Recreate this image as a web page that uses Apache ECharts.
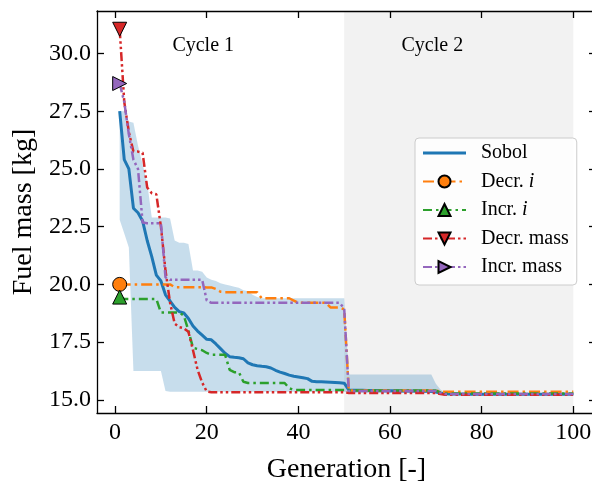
<!DOCTYPE html>
<html>
<head>
<meta charset="utf-8">
<script src="https://cdn.jsdelivr.net/npm/echarts@6/dist/echarts.min.js"></script>
<style>html,body{margin:0;padding:0;background:#fff}#c{width:592px;height:481px}</style>
</head>
<body>
<div id="c"></div>
<script>
const generations = Array.from({length: 100}, (_, i) => i + 1);
const xTicks = [0, 20, 40, 60, 80, 100];
const yTicks = [15, 17.5, 20, 22.5, 25, 27.5, 30];
const seriesNames = ['Sobol', 'Decr. i', 'Incr. i', 'Decr. mass', 'Incr. mass'];
const cycleLabels = ['Cycle 1', 'Cycle 2'];
const cycleLabelX = [12.5, 62.5];
const cycleLabelY = 30.32;
const cycle2Span = [50, 100];

const sobol = [
 27.5, 25.4, 25.0, 23.3, 23.1, 22.75, 21.9, 21.2, 20.4, 20.15,
 19.55, 19.28, 19.0, 18.82, 18.76, 18.52, 18.2, 17.98, 17.8, 17.62,
 17.6, 17.42, 17.22, 17.02, 16.87, 16.84, 16.82, 16.78, 16.6, 16.52,
 16.48, 16.45, 16.43, 16.38, 16.28, 16.2, 16.14, 16.07, 16.02, 15.99,
 15.96, 15.92, 15.8, 15.78, 15.78, 15.77, 15.76, 15.75, 15.74, 15.72,
 15.43, 15.42, 15.41, 15.41, 15.4, 15.4, 15.4, 15.39, 15.39, 15.39,
 15.39, 15.38, 15.38, 15.38, 15.38, 15.37, 15.37, 15.37, 15.36, 15.34,
 15.29, 15.26, 15.25, 15.25, 15.25, 15.25, 15.24, 15.24, 15.24, 15.24,
 15.24, 15.24, 15.24, 15.24, 15.24, 15.24, 15.24, 15.24, 15.24, 15.24,
 15.24, 15.24, 15.24, 15.24, 15.24, 15.24, 15.24, 15.24, 15.24, 15.24
];
const sobolUpper = [
 27.5, 27.5, 27.05, 27.0, 26.0, 25.2, 24.4, 22.9, 22.9, 22.9,
 22.9, 22.85, 21.9, 21.8, 21.8, 21.75, 20.6, 20.6, 20.55, 20.3,
 20.2, 20.15, 20.05, 20.0, 19.95, 19.9, 19.85, 19.75, 19.7, 19.55,
 19.45, 19.4, 19.4, 19.4, 19.4, 19.4, 19.4, 19.4, 19.4, 19.4,
 19.4, 19.4, 19.4, 19.4, 19.4, 19.4, 19.4, 19.4, 19.4, 19.4,
 16.1, 16.1, 16.1, 16.1, 16.1, 16.1, 16.1, 16.1, 16.1, 16.1,
 16.1, 16.1, 16.1, 16.1, 16.1, 16.1, 16.1, 16.1, 16.1, 15.7,
 15.45, 15.32, 15.28, 15.28, 15.28, 15.28, 15.28, 15.28, 15.28, 15.28,
 15.28, 15.28, 15.28, 15.28, 15.28, 15.28, 15.28, 15.28, 15.28, 15.28,
 15.28, 15.28, 15.28, 15.28, 15.28, 15.28, 15.28, 15.28, 15.28, 15.28
];
const sobolLower = [
 22.8, 22.2, 21.6, 16.25, 16.25, 16.25, 16.25, 16.25, 16.25, 16.25,
 15.38, 15.35, 15.35, 15.35, 15.35, 15.35, 15.35, 15.35, 15.35, 15.35,
 15.35, 15.35, 15.35, 15.35, 15.35, 15.35, 15.35, 15.35, 15.35, 15.35,
 15.35, 15.35, 15.35, 15.35, 15.35, 15.35, 15.35, 15.35, 15.35, 15.35,
 15.35, 15.35, 15.35, 15.35, 15.35, 15.35, 15.35, 15.35, 15.35, 15.35,
 15.3, 15.3, 15.3, 15.3, 15.3, 15.3, 15.3, 15.3, 15.3, 15.3,
 15.3, 15.3, 15.3, 15.3, 15.3, 15.3, 15.3, 15.3, 15.3, 15.3,
 15.25, 15.2, 15.2, 15.2, 15.2, 15.2, 15.2, 15.2, 15.2, 15.2,
 15.2, 15.2, 15.2, 15.2, 15.2, 15.2, 15.2, 15.2, 15.2, 15.2,
 15.2, 15.2, 15.2, 15.2, 15.2, 15.2, 15.2, 15.2, 15.2, 15.2
];
const decrI = [
 20.0, 20.0, 20.0, 20.0, 20.0, 20.0, 20.0, 20.0, 20.0, 20.0,
 20.0, 20.0, 19.88, 19.88, 19.88, 19.88, 19.88, 19.88, 19.88, 19.87,
 19.87, 19.8, 19.68, 19.66, 19.66, 19.66, 19.66, 19.66, 19.66, 19.66,
 19.66, 19.4, 19.4, 19.4, 19.4, 19.4, 19.4, 19.4, 19.3, 19.2,
 19.2, 19.2, 19.2, 19.2, 19.2, 19.2, 19.0, 19.0, 19.0, 18.92,
 15.4, 15.4, 15.4, 15.4, 15.4, 15.4, 15.4, 15.4, 15.4, 15.4,
 15.4, 15.4, 15.4, 15.4, 15.4, 15.4, 15.4, 15.4, 15.4, 15.4,
 15.36, 15.35, 15.35, 15.35, 15.35, 15.35, 15.35, 15.35, 15.35, 15.35,
 15.35, 15.35, 15.35, 15.35, 15.35, 15.35, 15.35, 15.35, 15.35, 15.35,
 15.35, 15.35, 15.35, 15.35, 15.35, 15.35, 15.35, 15.35, 15.35, 15.35
];
const incrI = [
 19.45, 19.37, 19.37, 19.37, 19.37, 19.37, 19.37, 19.37, 19.37, 18.78,
 18.78, 18.78, 18.78, 18.78, 18.65, 18.0, 17.25, 17.2, 17.15, 17.03,
 16.95, 16.95, 16.95, 16.95, 16.3, 16.2, 16.2, 15.78, 15.73, 15.73,
 15.73, 15.73, 15.73, 15.73, 15.73, 15.73, 15.73, 15.5, 15.43, 15.43,
 15.43, 15.43, 15.43, 15.43, 15.43, 15.43, 15.43, 15.43, 15.43, 15.43,
 15.4, 15.4, 15.4, 15.4, 15.4, 15.4, 15.4, 15.4, 15.4, 15.4,
 15.4, 15.4, 15.4, 15.4, 15.4, 15.4, 15.4, 15.4, 15.4, 15.4,
 15.32, 15.27, 15.27, 15.27, 15.27, 15.27, 15.27, 15.27, 15.27, 15.27,
 15.27, 15.27, 15.27, 15.27, 15.27, 15.27, 15.27, 15.27, 15.27, 15.27,
 15.27, 15.27, 15.27, 15.27, 15.27, 15.27, 15.27, 15.27, 15.27, 15.27
];
const decrMass = [
 31.05, 27.9, 26.6, 25.75, 25.75, 25.7, 24.2, 23.95, 23.9, 22.5,
 20.6, 19.2, 18.3, 18.15, 18.1, 17.95, 17.15, 16.3, 15.75, 15.36,
 15.33, 15.33, 15.33, 15.33, 15.33, 15.33, 15.33, 15.33, 15.33, 15.33,
 15.33, 15.33, 15.33, 15.33, 15.33, 15.33, 15.33, 15.33, 15.33, 15.33,
 15.33, 15.33, 15.33, 15.33, 15.33, 15.33, 15.33, 15.33, 15.33, 15.33,
 15.3, 15.3, 15.3, 15.3, 15.3, 15.3, 15.3, 15.3, 15.3, 15.3,
 15.3, 15.3, 15.3, 15.3, 15.3, 15.3, 15.3, 15.3, 15.3, 15.3,
 15.25, 15.22, 15.22, 15.22, 15.22, 15.22, 15.22, 15.22, 15.22, 15.22,
 15.22, 15.22, 15.22, 15.22, 15.22, 15.22, 15.22, 15.22, 15.22, 15.22,
 15.22, 15.22, 15.22, 15.22, 15.22, 15.22, 15.22, 15.22, 15.22, 15.22
];
const incrMass = [
 28.7, 27.9, 26.5, 25.4, 25.0, 22.68, 22.65, 22.65, 22.65, 22.65,
 20.3, 20.2, 20.2, 20.2, 20.2, 20.2, 20.2, 20.2, 20.2, 19.3,
 19.2, 19.2, 19.2, 19.2, 19.2, 19.2, 19.2, 19.2, 19.2, 19.2,
 19.2, 19.2, 19.2, 19.2, 19.2, 19.2, 19.2, 19.2, 19.2, 19.2,
 19.2, 19.2, 19.2, 19.2, 19.2, 19.2, 19.2, 19.2, 19.2, 18.95,
 15.38, 15.38, 15.38, 15.38, 15.38, 15.38, 15.38, 15.38, 15.38, 15.38,
 15.38, 15.38, 15.38, 15.38, 15.38, 15.38, 15.38, 15.38, 15.38, 15.38,
 15.3, 15.25, 15.25, 15.25, 15.25, 15.25, 15.25, 15.25, 15.25, 15.25,
 15.25, 15.25, 15.25, 15.25, 15.25, 15.25, 15.25, 15.25, 15.25, 15.25,
 15.25, 15.25, 15.25, 15.25, 15.25, 15.25, 15.25, 15.25, 15.25, 15.25
];

const FONT = 'Liberation Serif';
const X_MIN = -3.95, X_MAX = 104.95, Y_MIN = 14.43, Y_MAX = 31.84;

const chart = echarts.init(document.getElementById('c'), null, {renderer: 'canvas'});

function pairs(arr) { return generations.map((g, i) => [g, arr[i]]); }

function dashed(name, data, color, dash, symbol, rotate, z) {
  return {
    name: name, type: 'line', data: pairs(data), z: z,
    symbol: symbol, symbolRotate: rotate, showAllSymbol: true,
    symbolSize: (v, p) => p.dataIndex === 0 ? 14 : 0,
    itemStyle: {color: color, borderColor: '#000', borderWidth: 1},
    lineStyle: {color: color, width: 2.5, type: dash},
    emphasis: {disabled: true}, animation: false
  };
}

const axisCommon = {
  axisLine: {show: true, onZero: false, lineStyle: {color: '#000', width: 1.3}},
  splitLine: {show: false}, z: 10
};

const option = {
  backgroundColor: '#fff',
  animation: false,
  grid: {left: 97, top: 11, right: -4, bottom: 68, outerBoundsMode: 'none', containLabel: false},
  xAxis: [
    Object.assign({}, axisCommon, {
      type: 'value', min: X_MIN, max: X_MAX, position: 'bottom',
      name: 'Generation [-]', nameLocation: 'middle', nameGap: 43,
      nameTextStyle: {fontFamily: FONT, fontSize: 28, color: '#000'},
      axisTick: {show: true, inside: true, length: 7, lineStyle: {color: '#000', width: 1.3}, customValues: xTicks},
      axisLabel: {show: true, customValues: xTicks, margin: 8, fontFamily: FONT, fontSize: 24, color: '#000'}
    }),
    Object.assign({}, axisCommon, {
      type: 'value', min: X_MIN, max: X_MAX, position: 'top',
      axisTick: {show: true, inside: true, length: 7, lineStyle: {color: '#000', width: 1.3}, customValues: xTicks},
      axisLabel: {show: false}
    })
  ],
  yAxis: [
    Object.assign({}, axisCommon, {
      type: 'value', min: Y_MIN, max: Y_MAX, position: 'left',
      name: 'Fuel mass [kg]', nameLocation: 'middle', nameGap: 58,
      nameTextStyle: {fontFamily: FONT, fontSize: 28, color: '#000'},
      axisTick: {show: true, inside: true, length: 7, lineStyle: {color: '#000', width: 1.3}, customValues: yTicks},
      axisLabel: {show: true, customValues: yTicks, margin: 6, fontFamily: FONT, fontSize: 24, color: '#000',
                  formatter: v => Number(v).toFixed(1)}
    }),
    Object.assign({}, axisCommon, {
      type: 'value', min: Y_MIN, max: Y_MAX, position: 'right',
      axisTick: {show: true, inside: true, length: 7, lineStyle: {color: '#000', width: 1.3}, customValues: yTicks},
      axisLabel: {show: false}
    })
  ],
  legend: {
    orient: 'vertical', left: 415, top: 138,
    padding: [5, 8, 8, 7],
    backgroundColor: 'rgba(255,255,255,0.8)', borderColor: '#cccccc', borderWidth: 1, borderRadius: 4,
    itemWidth: 43, itemHeight: 15, itemGap: 8.5,
    selectedMode: false,
    textStyle: {fontFamily: FONT, fontSize: 20, lineHeight: 20, color: '#000',
      rich: {s: {width: 10}, it: {fontStyle: 'italic', fontFamily: FONT, fontSize: 20, color: '#000'}}},
    formatter: n => '{s|}' + n.replace(/ i$/, ' {it|i}'),
    data: [
      {name: seriesNames[0], icon: 'path://M0,0L43,0L43,3L0,3Z'},
      seriesNames[1], seriesNames[2], seriesNames[3], seriesNames[4]
    ]
  },
  series: [
    {
      type: 'custom', silent: true, z: 0,
      data: [[cycle2Span[0], cycle2Span[1]]],
      encode: {x: [0, 1]},
      renderItem: (params, api) => {
        const cs = params.coordSys;
        const a = api.coord([cycle2Span[0], Y_MIN]);
        const b = api.coord([cycle2Span[1], Y_MIN]);
        return {type: 'rect', shape: {x: a[0], y: cs.y, width: b[0] - a[0], height: cs.height},
                style: {fill: '#f2f2f2'}};
      }
    },
    {
      type: 'custom', silent: true, z: 1,
      data: generations.map((g, i) => [g, sobolLower[i], sobolUpper[i]]),
      encode: {x: 0, y: [1, 2]},
      renderItem: (params, api) => {
        if (params.dataIndex !== 0) return null;
        const pts = [];
        for (let i = 0; i < generations.length; i++) pts.push(api.coord([generations[i], sobolUpper[i]]));
        for (let i = generations.length - 1; i >= 0; i--) pts.push(api.coord([generations[i], sobolLower[i]]));
        return {type: 'polygon', shape: {points: pts}, style: {fill: 'rgba(31,119,180,0.25)'}};
      }
    },
    {
      name: seriesNames[0], type: 'line', data: pairs(sobol), z: 3,
      symbol: 'none', itemStyle: {color: '#1f77b4'},
      lineStyle: {color: '#1f77b4', width: 3},
      emphasis: {disabled: true}, animation: false
    },
    dashed(seriesNames[1], decrI, '#ff7f0e', [11, 4, 2.5, 4], 'circle', 0, 4),
    dashed(seriesNames[2], incrI, '#2ca02c', [9, 4, 2.5, 4], 'triangle', 0, 5),
    dashed(seriesNames[3], decrMass, '#d62728', [9, 3, 2.5, 3, 2.5, 3], 'triangle', 180, 6),
    dashed(seriesNames[4], incrMass, '#9467bd', [9, 3, 2.5, 3, 2.5, 3], 'triangle', -90, 7),
    {
      type: 'scatter', silent: true, z: 8,
      data: cycleLabels.map((t, i) => [cycleLabelX[i], cycleLabelY, t]),
      symbolSize: 0, itemStyle: {opacity: 1},
      label: {show: true, position: 'right', distance: 0, formatter: p => p.value[2],
              fontFamily: FONT, fontSize: 20, color: '#000', textBorderWidth: 0, opacity: 1}
    }
  ]
};
chart.setOption(option);
</script>
</body>
</html>
